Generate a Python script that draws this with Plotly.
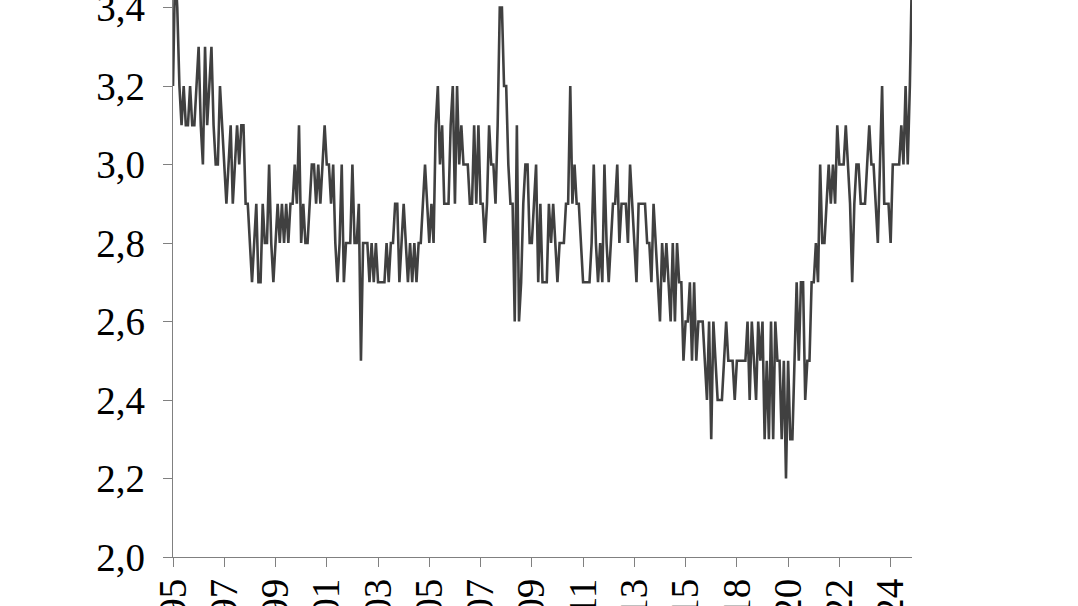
import plotly.graph_objects as go

# Monthly values (index 0 = first month of 1995)
values = [
    3.2, 3.5, 3.4, 3.2, 3.1, 3.2, 3.1, 3.1, 3.2, 3.1,
    3.1, 3.2, 3.3, 3.1, 3.0, 3.3, 3.1, 3.2, 3.3, 3.1,
    3.0, 3.0, 3.2, 3.1, 3.0, 2.9, 3.0, 3.1, 2.9, 3.0,
    3.1, 3.0, 3.1, 3.1, 2.9, 2.9, 2.8, 2.7, 2.8, 2.9,
    2.7, 2.7, 2.9, 2.8, 2.8, 3.0, 2.8, 2.7, 2.8, 2.9,
    2.8, 2.9, 2.8, 2.9, 2.8, 2.9, 2.9, 3.0, 2.9, 3.1,
    2.8, 2.9, 2.8, 2.8, 2.9, 3.0, 3.0, 2.9, 3.0, 2.9,
    3.0, 3.1, 3.0, 3.0, 2.9, 3.0, 2.8, 2.7, 2.8, 3.0,
    2.7, 2.8, 2.8, 2.8, 3.0, 2.8, 2.8, 2.9, 2.5, 2.8,
    2.8, 2.8, 2.7, 2.8, 2.7, 2.8, 2.7, 2.7, 2.7, 2.7,
    2.8, 2.7, 2.8, 2.8, 2.9, 2.9, 2.7, 2.8, 2.9, 2.8,
    2.7, 2.8, 2.7, 2.8, 2.7, 2.8, 2.8, 2.9, 3.0, 2.9,
    2.8, 2.9, 2.8, 3.1, 3.2, 3.0, 3.1, 2.9, 2.9, 2.9,
    3.1, 3.2, 2.9, 3.2, 3.0, 3.1, 3.0, 3.0, 3.0, 2.9,
    2.9, 3.1, 2.9, 3.1, 2.9, 2.9, 2.8, 2.9, 3.1, 3.0,
    3.0, 2.9, 3.1, 3.4, 3.4, 3.2, 3.2, 3.0, 2.9, 2.9,
    2.6, 3.1, 2.6, 2.7, 2.9, 3.0, 3.0, 2.8, 2.8, 2.9,
    3.0, 2.7, 2.9, 2.7, 2.7, 2.7, 2.9, 2.8, 2.9, 2.8,
    2.7, 2.8, 2.8, 2.8, 2.9, 2.9, 3.2, 2.9, 3.0, 2.9,
    2.9, 2.8, 2.7, 2.7, 2.7, 2.7, 2.8, 3.0, 2.8, 2.7,
    2.8, 2.7, 3.0, 2.8, 2.7, 2.8, 2.9, 2.9, 3.0, 2.8,
    2.9, 2.9, 2.9, 2.8, 3.0, 2.9, 2.8, 2.7, 2.9, 2.9,
    2.9, 2.9, 2.8, 2.8, 2.7, 2.9, 2.8, 2.7, 2.6, 2.8,
    2.7, 2.8, 2.7, 2.6, 2.8, 2.6, 2.8, 2.7, 2.7, 2.5,
    2.6, 2.6, 2.7, 2.5, 2.7, 2.5, 2.6, 2.6, 2.6, 2.5,
    2.4, 2.6, 2.3, 2.6, 2.5, 2.4, 2.4, 2.4, 2.5, 2.6,
    2.5, 2.5, 2.5, 2.4, 2.5, 2.5, 2.5, 2.5, 2.5, 2.6,
    2.4, 2.6, 2.5, 2.4, 2.6, 2.5, 2.6, 2.3, 2.5, 2.3,
    2.6, 2.3, 2.6, 2.5, 2.5, 2.3, 2.5, 2.2, 2.5, 2.3,
    2.3, 2.5, 2.7, 2.5, 2.7, 2.7, 2.4, 2.5, 2.5, 2.7,
    2.7, 2.8, 2.7, 3.0, 2.8, 2.8, 2.9, 3.0, 2.9, 3.0,
    2.9, 3.1, 3.0, 3.0, 3.0, 3.1, 3.0, 2.9, 2.7, 2.9,
    3.0, 3.0, 2.9, 2.9, 2.9, 3.0, 3.1, 3.0, 3.0, 2.9,
    2.8, 3.0, 3.2, 2.9, 2.9, 2.9, 2.8, 3.0, 3.0, 3.0,
    3.0, 3.1, 3.0, 3.2, 3.0, 3.2, 3.5,
]

tick_positions = [0, 24, 48, 72, 96, 120, 144, 168, 192, 216, 240, 264, 288, 312, 336]
tick_labels = ["1995", "1997", "1999", "2001", "2003", "2005", "2007", "2009",
               "2011", "2013", "2015", "2018", "2020", "2022", "2024"]
y_ticks = [2.0, 2.2, 2.4, 2.6, 2.8, 3.0, 3.2, 3.4]

x_index = list(range(len(values)))

fig = go.Figure()
fig.add_trace(go.Scatter(
    x=x_index, y=values, mode="lines",
    line=dict(color="#404040", width=2.6),
    showlegend=False, hoverinfo="skip",
))

font = dict(family="Liberation Serif, Times New Roman, serif", size=39, color="#000000")

fig.update_layout(
    width=1078, height=606,
    margin=dict(l=173, r=166, t=0, b=49, pad=0),
    paper_bgcolor="white", plot_bgcolor="white",
    separators=", ",
    font=font,
)
fig.update_xaxes(
    range=[0, len(values) - 1],
    tickmode="array", tickvals=tick_positions, ticktext=tick_labels,
    tickangle=-90, ticks="outside", ticklen=9, tickwidth=1.2, tickcolor="#808080",
    showline=True, linecolor="#808080", linewidth=1.3,
    showgrid=False, zeroline=False, automargin=False, tickfont=font,
    ticklabelstandoff=-4, ticklabeloverflow="allow",
)
fig.update_yaxes(
    range=[2.0, 2.0 + 557 / 392.5],
    tickmode="array", tickvals=y_ticks, tickformat=".1f",
    ticks="outside", ticklen=9, tickwidth=1.2, tickcolor="#808080",
    showline=True, linecolor="#808080", linewidth=1.3,
    showgrid=False, zeroline=False, automargin=False, tickfont=font,
    ticklabelstandoff=10, ticklabeloverflow="allow",
)

fig.write_html(
    "out.html",
    config={"displayModeBar": False},
    post_script="document.body.style.margin='0';document.body.style.overflow='hidden';",
)
